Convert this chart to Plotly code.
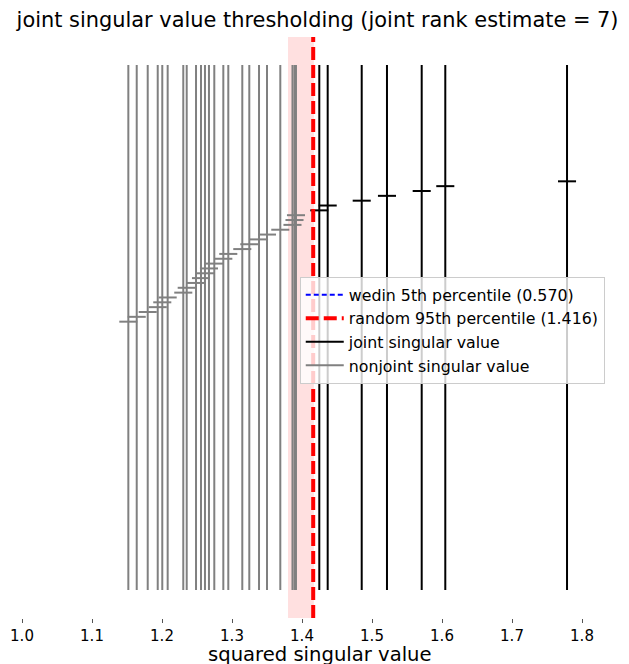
import plotly.graph_objects as go

# ---- data ----
joint_values = [1.7786, 1.6047, 1.5710, 1.5214, 1.4853, 1.4367, 1.4247]
nonjoint_values = [1.3914, 1.3893, 1.3864, 1.3690, 1.3500, 1.3386, 1.3247,
                   1.3147, 1.2947, 1.2876, 1.2747, 1.2671, 1.2614, 1.2557,
                   1.2486, 1.2353, 1.2304, 1.2081, 1.2004, 1.1939, 1.1796,
                   1.1639, 1.1519]
wedin_5th = 0.570
random_95th = 1.416
random_band = [1.380, 1.417]
joint_rank = len(joint_values)
x_ticks = [1.0, 1.1, 1.2, 1.3, 1.4, 1.5, 1.6, 1.7, 1.8]

# ---- style / layout constants ----
Y_LO, Y_HI = 0.048, 0.952       # vertical line extent (axis fraction)
TICK_TOP, TICK_STEP = 0.7516, 0.00833
HALF_W = 0.0129                 # half width of the horizontal markers (x units)


def build(values, start_index):
    xs, ys = [], []
    for v in values:
        xs += [v, v, None]
        ys += [Y_LO, Y_HI, None]
    for k, v in enumerate(values):
        yy = TICK_TOP - (start_index + k) * TICK_STEP
        xs += [v - HALF_W, v + HALF_W, None]
        ys += [yy, yy, None]
    return xs, ys


fig = go.Figure()

fig.add_shape(type="rect", xref="x", yref="y", x0=random_band[0], x1=random_band[1],
              y0=0, y1=1, fillcolor="rgba(255,0,0,0.12)", line_width=0, layer="below")

jx, jy = build(joint_values, 0)
nx, ny = build(nonjoint_values, len(joint_values))

fig.add_trace(go.Scatter(x=[wedin_5th, wedin_5th], y=[0, 1], mode="lines",
                         line=dict(color="blue", width=2, dash="5px,3px"),
                         name="wedin 5th percentile (%.3f)" % wedin_5th, legendrank=1))
fig.add_trace(go.Scatter(x=jx, y=jy, mode="lines", line=dict(color="black", width=2),
                         name="joint singular value", legendrank=3))
fig.add_trace(go.Scatter(x=nx, y=ny, mode="lines", line=dict(color="#808080", width=2),
                         name="nonjoint singular value", legendrank=4))
fig.add_trace(go.Scatter(x=[random_95th, random_95th], y=[0, 1], mode="lines",
                         line=dict(color="red", width=4, dash="13px,5px"),
                         name="random 95th percentile (%.3f)" % random_95th, legendrank=2))

# x-axis title as an annotation (precise placement)
fig.add_annotation(text="squared singular value", xref="paper", yref="paper",
                   x=0.508, y=0, xanchor="center", yanchor="middle", yshift=-36,
                   showarrow=False, font=dict(size=19.6, family="DejaVu Sans", color="black"))

# the page body adds an 8px margin, so the figure is 8px smaller than the window
fig.update_layout(
    width=621, height=656,
    margin=dict(l=2, r=9, t=29, b=46, autoexpand=False),
    paper_bgcolor="white", plot_bgcolor="white",
    font=dict(family="DejaVu Sans", color="black", size=15),
    title=dict(text="joint singular value thresholding (joint rank estimate = %d)" % joint_rank,
               x=0.4985, xanchor="center", y=0.993, yanchor="top",
               font=dict(size=20.9, family="DejaVu Sans", color="black")),
    showlegend=True,
    legend=dict(x=0.475, y=0.587, xanchor="left", yanchor="top",
                bgcolor="rgba(255,255,255,0.8)", bordercolor="#cccccc", borderwidth=1,
                font=dict(size=15.8, family="DejaVu Sans", color="black"),
                itemwidth=38, traceorder="normal"),
)
fig.update_xaxes(range=[1 - 12 / 700, 1 + 598 / 700], tickvals=x_ticks,
                 ticktext=["%.1f" % t for t in x_ticks], automargin=False,
                 showgrid=False, zeroline=False, showline=False,
                 ticks="outside", ticklen=4, tickcolor="#555", tickwidth=1,
                 tickfont=dict(size=15), ticklabelstandoff=0)
fig.update_yaxes(range=[0, 1], visible=False, automargin=False)

fig.write_html("out.html")
